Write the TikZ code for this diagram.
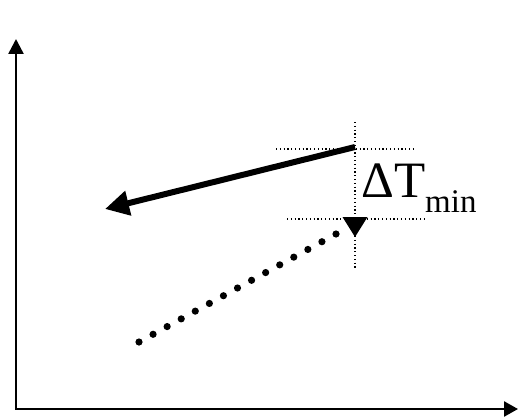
\documentclass[tikz,border=0pt]{standalone}
\usepackage{fontspec}
\setmainfont{Liberation Serif}
\usetikzlibrary{arrows.meta, calc}
\def\dotR{3.6pt}
\def\dotCount{14}

\begin{document}
\begin{tikzpicture}[
    x=1pt, y=-1pt,
    axis/.style={line width=2.5pt, {Triangle[length=15pt,width=15pt]}-{Triangle[length=14pt,width=15pt]}},
    guide/.style={line width=1.2pt, dash pattern=on 1.2pt off 2.6pt},
    hotline/.style={line width=6pt, -{Triangle[length=24pt,width=24pt]}}
]
\useasboundingbox (0,0) rectangle (518,417);

% axes
\coordinate (O) at (16,409);
\coordinate (ytop) at (16,39);
\coordinate (xend) at (518,409);
\draw[axis] (ytop) -- (O) -- (xend);

% end points of the two streams
\coordinate (hotS) at (355,147);
\coordinate (hotE) at (105,209);
\coordinate (coldS) at (139,342);
\coordinate (coldE) at (336,234);
\coordinate (pinch) at (355,237);

% guide lines
\draw[guide] ($(pinch)+(0,-115)$) -- ($(pinch)+(0,31)$);
\draw[guide] (276,149) -- (414,149);
\draw[guide] (287,219) -- (426,219);

% hot stream
\draw[hotline] (hotS) -- (hotE);

% cold stream
\foreach \i in {0,...,\dotCount}
    \fill ($(coldS)!\i/\dotCount!(coldE)$) circle[radius=\dotR];
\fill ($(pinch)+(-12.5,-20)$) -- ($(pinch)+(12.5,-20)$) -- (pinch) -- cycle;

% label
\node[anchor=base west, inner sep=0pt, font=\fontsize{51}{56}\selectfont] (dT) at (361,197)
    {ΔT\raisebox{-15pt}{\fontsize{33}{36}\selectfont min}};
\end{tikzpicture}
\end{document}
